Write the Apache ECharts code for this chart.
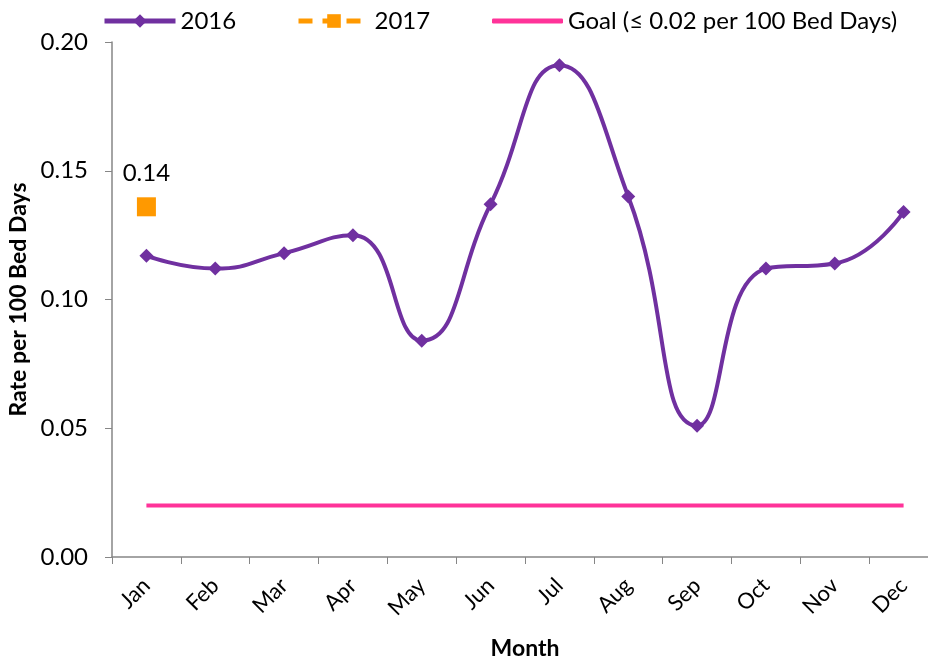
<!DOCTYPE html>
<html>
<head>
<meta charset="utf-8">
<script src="https://cdn.jsdelivr.net/npm/echarts@6/dist/echarts.min.js"></script>
<style>
  html, body { margin: 0; padding: 0; background: #fff; }
  #chart { width: 928px; height: 660px; }
</style>
</head>
<body>
<div id="chart"></div>
<script>
// Monthly rate per 100 bed days
const months = ['Jan', 'Feb', 'Mar', 'Apr', 'May', 'Jun', 'Jul', 'Aug', 'Sep', 'Oct', 'Nov', 'Dec'];
const rate2016 = [0.117, 0.112, 0.118, 0.125, 0.084, 0.137, 0.191, 0.140, 0.051, 0.112, 0.114, 0.134];
const rate2017 = [0.136, null, null, null, null, null, null, null, null, null, null, null];
const goal = [0.02, 0.02, 0.02, 0.02, 0.02, 0.02, 0.02, 0.02, 0.02, 0.02, 0.02, 0.02];
const goalName = 'Goal (\u2264 0.02 per 100 Bed Days)';

const FONT = 'Lato';
const chart = echarts.init(document.getElementById('chart'), null, { renderer: 'canvas' });

const legendBase = {
  top: 9,
  padding: 0,
  itemWidth: 71,
  itemHeight: 17,
  itemGap: 5,
  lineStyle: { width: 5 },
  textStyle: { fontFamily: FONT, fontSize: 24, color: '#000' }
};

chart.setOption({
  animation: false,
  backgroundColor: '#fff',
  textStyle: { fontFamily: FONT },
  legend: [
    Object.assign({}, legendBase, { left: 102, data: ['2016'] }),
    Object.assign({}, legendBase, { left: 296, data: ['2017'] }),
    Object.assign({}, legendBase, {
      left: 492,
      itemHeight: 5,
      data: [{ name: goalName, icon: 'roundRect' }]
    })
  ],
  grid: { left: 112, right: -10, top: 42, bottom: 103, outerBoundsMode: 'none', containLabel: false },
  xAxis: {
    type: 'category',
    data: months,
    boundaryGap: true,
    name: 'Month',
    nameLocation: 'middle',
    nameGap: 80,
    nameTextStyle: { fontFamily: FONT, fontSize: 23, fontWeight: 'bold', color: '#000' },
    axisLine: { lineStyle: { color: '#868686', width: 1.5 } },
    axisTick: { show: true, interval: 0, length: 7, lineStyle: { color: '#868686' } },
    axisLabel: { rotate: 45, interval: 0, margin: 25, fontFamily: FONT, fontSize: 22, color: '#000' }
  },
  yAxis: {
    type: 'value',
    min: 0,
    max: 0.2,
    interval: 0.05,
    name: 'Rate per 100 Bed Days',
    nameLocation: 'middle',
    nameGap: 82,
    nameTextStyle: { fontFamily: FONT, fontSize: 23, fontWeight: 'bold', color: '#000' },
    axisLine: { show: true, lineStyle: { color: '#868686', width: 1.5 } },
    axisTick: { show: true, length: 7, lineStyle: { color: '#868686' } },
    splitLine: { show: false },
    axisLabel: {
      margin: 24,
      fontFamily: FONT, fontSize: 24, color: '#000',
      formatter: v => v.toFixed(2)
    }
  },
  series: [
    {
      name: '2016',
      type: 'line',
      data: rate2016,
      smooth: 0.5,
      symbol: 'diamond',
      symbolSize: 14,
      itemStyle: { color: '#7030A0' },
      lineStyle: { color: '#7030A0', width: 4 },
      z: 3
    },
    {
      name: '2017',
      type: 'line',
      data: rate2017,
      symbol: 'rect',
      symbolSize: 19,
      itemStyle: { color: '#FF9900' },
      lineStyle: { color: '#FF9900', width: 4, type: [14, 10] },
      label: {
        show: true,
        position: 'top',
        distance: 12,
        fontFamily: FONT, fontSize: 24, color: '#000',
        formatter: p => p.value.toFixed(2)
      },
      z: 4
    },
    {
      name: goalName,
      type: 'line',
      data: goal,
      symbol: 'none',
      itemStyle: { color: '#FF3399' },
      lineStyle: { color: '#FF3399', width: 4 },
      z: 2
    }
  ]
});
</script>
</body>
</html>
